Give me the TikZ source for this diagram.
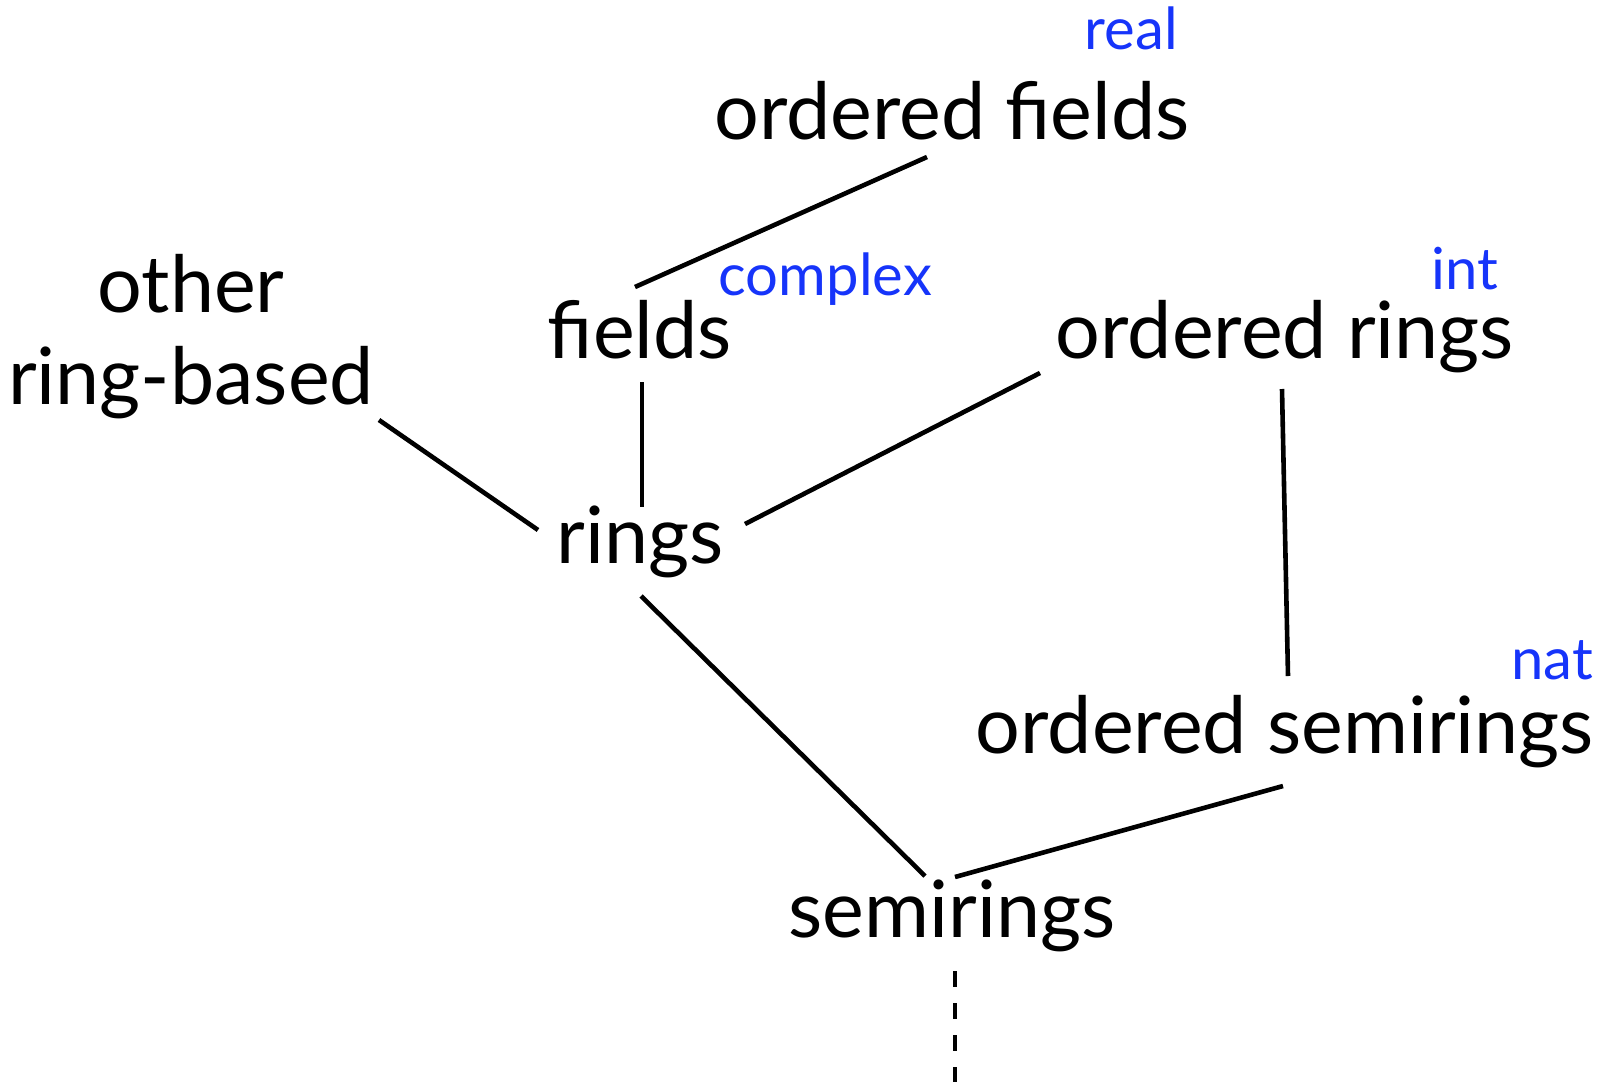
\documentclass[tikz,border=0pt]{standalone}
\usepackage{fontspec}
\setmainfont{Lato}
\usetikzlibrary{calc}
\definecolor{tagblue}{RGB}{22,52,250}
\tikzset{
  kind/.style={inner sep=0pt, anchor=base, font=\fontsize{79}{92}\selectfont},
  tag/.style={inner sep=0pt, anchor=base east, text=tagblue, font=\fontsize{58}{66}\selectfont},
  link/.style={line width=4.6pt},
  ext/.style={line width=4.6pt, dash pattern=on 16pt off 16pt},
}
\begin{document}
\begin{tikzpicture}[x=1pt,y=-1pt]
\useasboundingbox (0,0) rectangle (1606,1082);
% structure names (base of a two-line node is its last line)
\node[kind] (ofields) at (952,139) {ordered fields};
\node[kind] (fields) at (640,358) {fields};
\node[kind, align=center] (other) at (191,404) {other\\ring-based};
\node[kind] (orings) at (1285,358) {ordered rings};
\node[kind] (rings) at (640,563) {rings};
\node[kind] (osemi) at (1285,753) {ordered semirings};
\node[kind] (semi) at (952,937) {semirings};
% example instances
\node[tag] (real) at (1178,49) {real};
\node[tag] (complex) at (932,295) {complex};
\node[tag] (int) at (1498,289) {int};
\node[tag] (nat) at (1593,679) {nat};
% hierarchy
\draw[link] ($(ofields.base)+(-25,18)$) -- ($(fields.base)+(-5,-71)$);
\draw[link] ($(fields.base)+(2,24)$) -- ($(rings.base)+(2,-56)$);
\draw[link] ($(other.base)+(188,16)$) -- ($(rings.base)+(-102,-33)$);
\draw[link] ($(rings.base)+(105,-39)$) -- ($(orings.base)+(-245,15)$);
\draw[link] ($(orings.base)+(-3,31)$) -- ($(osemi.base)+(3,-77)$);
\draw[link] ($(rings.base)+(1,33)$) -- ($(semi.base)+(-27,-61)$);
\draw[link] ($(osemi.base)+(-2,33)$) -- ($(semi.base)+(3,-60)$);
\coordinate (below) at ($(semi.base)+(3,145)$);
\draw[ext] ($(semi.base)+(3,34)$) -- (below);
\end{tikzpicture}
\end{document}
